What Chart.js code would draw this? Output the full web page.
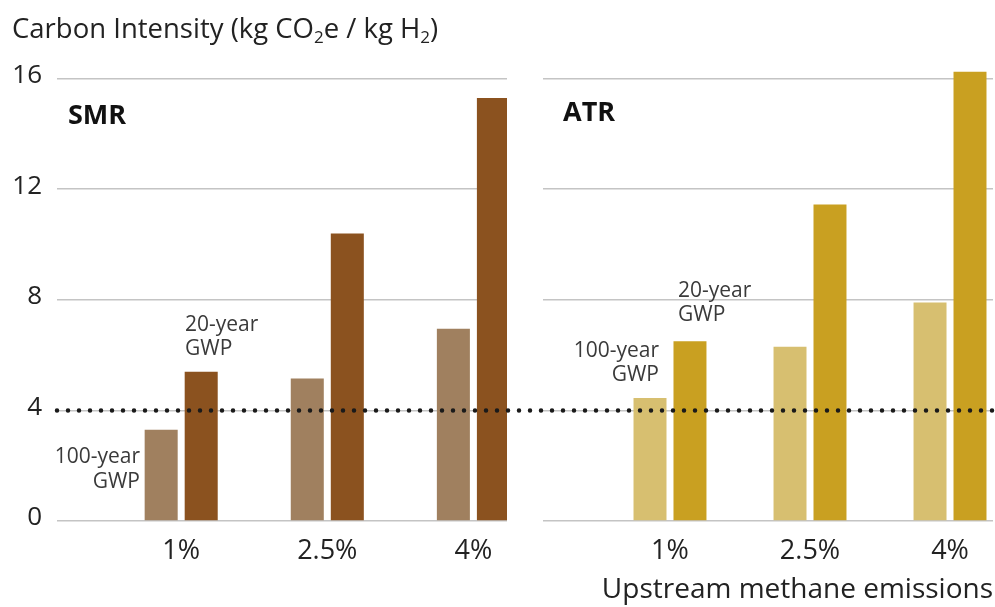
<!DOCTYPE html>
<html>
<head>
<meta charset="utf-8">
<script src="https://cdn.jsdelivr.net/npm/chart.js@4"></script>
<style>
  html, body { margin: 0; padding: 0; background: #fff; }
  #wrap { position: relative; width: 995px; height: 607px; }
  canvas { position: absolute; top: 0; }
  #smr { left: 0; }
  #atr { left: 525px; }
</style>
</head>
<body>
<div id="wrap">
  <canvas id="smr" width="525" height="607"></canvas>
  <canvas id="atr" width="470" height="607"></canvas>
</div>
<script>
// Carbon intensity of blue hydrogen (kg CO2e / kg H2) vs upstream methane leakage.
// Two panels (SMR, ATR), each its own chart so the gap between them matches.
const EMISSIONS = ["1%", "2.5%", "4%"];
const SMR_100YR = [3.3, 5.15, 6.95];
const SMR_20YR = [5.4, 10.4, 15.3];
const ATR_100YR = [4.45, 6.3, 7.9];
const ATR_20YR = [6.5, 11.45, 16.25];
const Y_TICKS = [0, 4, 8, 12, 16];
const THRESHOLD = 4;

const FONT = "'Open Sans', 'Noto Sans', sans-serif";
const COLORS = {
  smrLight: "#a0805f",
  smrDark: "#8b521f",
  atrLight: "#d7bf70",
  atrDark: "#c9a021",
  grid: "#c4c4c4",
  text: "#222222",
  note: "#3a3a3a",
  dots: "#1a1a1a",
};

// free text (panel names, GWP notes, y title), in canvas coords
const notesPlugin = {
  id: "notes",
  afterDraw(chart, args, opts) {
    const ctx = chart.ctx;
    ctx.save();
    ctx.textBaseline = "alphabetic";
    (opts.items || []).forEach((it) => {
      ctx.font = `${it.bold ? "bold " : ""}${it.size}px ${FONT}`;
      ctx.fillStyle = it.color || COLORS.note;
      ctx.textAlign = it.align || "left";
      if (!it.parts) {
        ctx.fillText(it.text, it.x, it.y);
        return;
      }
      // text with subscripts
      let x = it.x;
      it.parts.forEach((p) => {
        const sub = p.sub;
        ctx.font = `${sub ? Math.round(it.size * 0.62) : it.size}px ${FONT}`;
        ctx.fillText(p.t, x, it.y + (sub ? 5 : 0));
        x += ctx.measureText(p.t).width;
      });
    });
    ctx.restore();
  },
};

// dotted 4 kg line, runs across both panels
const thresholdPlugin = {
  id: "threshold",
  afterDatasetsDraw(chart, args, opts) {
    const ctx = chart.ctx;
    const y = chart.scales.y.getPixelForValue(THRESHOLD);
    const x0 = opts.from === "area" ? chart.chartArea.left : opts.from;
    const x1 = opts.to === "area" ? chart.chartArea.right : chart.width;
    ctx.save();
    ctx.strokeStyle = COLORS.dots;
    ctx.lineWidth = 4.5;
    ctx.lineCap = "round";
    ctx.setLineDash([0, 11]);
    ctx.beginPath();
    ctx.moveTo(x0, y);
    ctx.lineTo(x1, y);
    ctx.stroke();
    ctx.restore();
  },
};

function makePanel(canvas, light, dark, colors, cfg) {
  const pts = (arr) => arr.map((v, i) => ({ x: i, y: v }));
  const bar = { categoryPercentage: cfg.catPct, barPercentage: 0.825, borderWidth: 0 };
  return new Chart(canvas, {
    type: "bar",
    data: {
      datasets: [
        Object.assign({ label: "100-year GWP", data: pts(light), backgroundColor: colors[0] }, bar),
        Object.assign({ label: "20-year GWP", data: pts(dark), backgroundColor: colors[1] }, bar),
      ],
    },
    options: {
      responsive: false,
      animation: false,
      layout: { padding: { top: 51, right: cfg.padRight, bottom: 0, left: 0 } },
      plugins: {
        legend: { display: false },
        tooltip: { enabled: false },
        notes: { items: cfg.notes },
        threshold: cfg.threshold,
      },
      scales: {
        x: {
          type: "linear",
          offset: false,
          min: cfg.xMin,
          max: cfg.xMax,
          grid: { display: false, drawTicks: false },
          border: { display: false },
          ticks: {
            stepSize: 1,
            includeBounds: false,
            autoSkip: false,
            maxRotation: 0,
            padding: 14,
            color: COLORS.text,
            font: { family: FONT, size: 27 },
            callback: (v) => (Number.isInteger(v) && EMISSIONS[v]) || "",
          },
          title: cfg.xTitle || { display: false },
          afterFit: (s) => { s.height = 86; },
        },
        y: {
          min: 0,
          max: 17,
          grid: { color: COLORS.grid, lineWidth: 1.5, drawTicks: false },
          border: { display: false },
          ticks: {
            display: cfg.showY,
            padding: 15,
            labelOffset: -3,
            color: COLORS.text,
            font: { family: FONT, size: 26 },
          },
          afterBuildTicks: (s) => { s.ticks = Y_TICKS.map((v) => ({ value: v })); },
          afterFit: (s) => { s.width = cfg.yWidth; },
        },
      },
    },
    plugins: [notesPlugin, thresholdPlugin],
  });
}

makePanel(document.getElementById("smr"), SMR_100YR, SMR_20YR, [COLORS.smrLight, COLORS.smrDark], {
  xMin: -0.85,
  xMax: 2.23,
  catPct: 0.548,
  padRight: 18,
  yWidth: 57,
  showY: true,
  threshold: { from: "area", to: "canvas" },
  notes: [
    {
      x: 12, y: 38, size: 27.5, color: COLORS.text,
      parts: [{ t: "Carbon Intensity (kg CO" }, { t: "2", sub: true }, { t: "e / kg H" }, { t: "2", sub: true }, { t: ")" }],
    },
    { text: "SMR", x: 68, y: 124, size: 27, bold: true, color: "#111" },
    { text: "20-year", x: 185, y: 331, size: 21 },
    { text: "GWP", x: 185, y: 355, size: 21 },
    { text: "100-year", x: 140, y: 463, size: 21, align: "right" },
    { text: "GWP", x: 140, y: 488, size: 21, align: "right" },
  ],
});

makePanel(document.getElementById("atr"), ATR_100YR, ATR_20YR, [COLORS.atrLight, COLORS.atrDark], {
  xMin: -0.907,
  xMax: 2.307,
  catPct: 0.571,
  padRight: 2,
  yWidth: 18,
  showY: false,
  threshold: { from: 5, to: "area" },
  xTitle: {
    display: true,
    text: "Upstream methane emissions",
    align: "end",
    color: COLORS.text,
    font: { family: FONT, size: 28 },
    padding: { top: 0, bottom: 0 },
  },
  notes: [
    { text: "ATR", x: 38, y: 121, size: 27, bold: true, color: "#111" },
    { text: "20-year", x: 153, y: 297, size: 21 },
    { text: "GWP", x: 153, y: 321, size: 21 },
    { text: "100-year", x: 134, y: 357, size: 21, align: "right" },
    { text: "GWP", x: 134, y: 381, size: 21, align: "right" },
  ],
});
</script>
</body>
</html>
